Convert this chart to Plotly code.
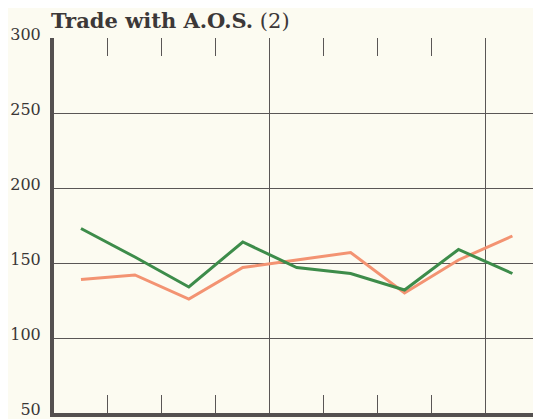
import plotly.graph_objects as go

# Quarterly series, nine quarters
quarters = [0.5, 1.5, 2.5, 3.5, 4.5, 5.5, 6.5, 7.5, 8.5]
green_values = [173, 154, 134, 164, 147, 143, 132, 159, 143]
orange_values = [139, 142, 126, 147, 152, 157, 130, 152, 168]
y_ticks = [50, 100, 150, 200, 250, 300]

bg = "#fcfbf1"
axis_col = "#545050"
grid_col = "#5a5656"
serif = "DejaVu Serif, Liberation Serif, serif"

# the page body keeps its default 8px margin, so the figure is 8px smaller
W, H = 533, 411

fig = go.Figure()
fig.add_trace(go.Scatter(x=quarters, y=orange_values, mode="lines",
                         line=dict(color="#f39372", width=3), hoverinfo="skip"))
fig.add_trace(go.Scatter(x=quarters, y=green_values, mode="lines",
                         line=dict(color="#3d8c4a", width=3), hoverinfo="skip"))
# invisible trace so the top tick axis gets drawn
fig.add_trace(go.Scatter(x=quarters, y=green_values, mode="lines", xaxis="x2",
                         line=dict(width=0), hoverinfo="skip", showlegend=False))

x_range = [0, 9.03]

fig.update_layout(
    width=W, height=H,
    margin=dict(l=46, r=0, t=30, b=6, autoexpand=False),
    paper_bgcolor=bg, plot_bgcolor=bg,
    showlegend=False,
    title=dict(text="<b>Trade with A.O.S.</b> (2)", x=43 / W, xanchor="left",
               xref="container", y=1 - 13 / H, yanchor="middle",
               font=dict(family=serif, size=21, color="#3c3838")),
    xaxis=dict(range=x_range, tickvals=[4, 8], showticklabels=False,
               showgrid=True, gridcolor=grid_col, gridwidth=1,
               ticks="inside", ticklen=18, tickcolor=grid_col,
               minor=dict(dtick=1, tick0=0, ticks="inside", ticklen=18,
                          tickcolor=grid_col, showgrid=False),
               showline=True, linecolor=axis_col, linewidth=4,
               zeroline=False, automargin=False),
    xaxis2=dict(range=x_range, overlaying="x", matches="x", side="top",
                tickvals=[1, 2, 3, 4, 5, 6, 7, 8, 9], showticklabels=False,
                ticks="inside", ticklen=18, tickcolor=grid_col,
                showgrid=False, showline=False, zeroline=False,
                automargin=False),
    yaxis=dict(range=[50, 300], tickvals=y_ticks,
               showgrid=True, gridcolor=grid_col, gridwidth=1,
               showline=True, linecolor=axis_col, linewidth=4,
               ticks="", ticklabelstandoff=6, ticklabelshift=-4,
               zeroline=False, automargin=False, ticklabeloverflow="allow",
               tickfont=dict(family=serif, size=16, color="#3a3636")),
)

fig.write_html("out.html")
